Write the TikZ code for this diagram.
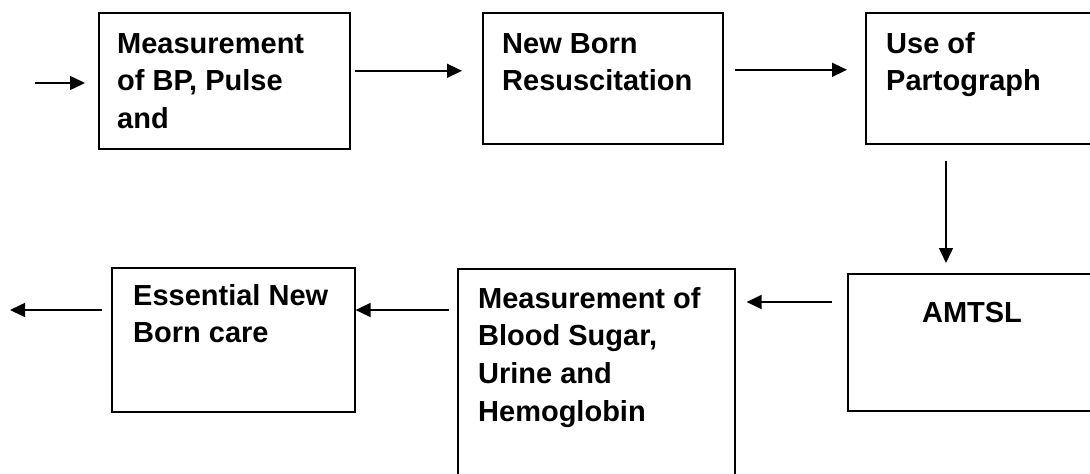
\documentclass[tikz,border=0pt]{standalone}
\usepackage{fontspec}
\setmainfont{Liberation Sans}
\usetikzlibrary{arrows.meta}
\tikzset{
  box/.style={draw, line width=1.6pt, rectangle, inner sep=0pt, anchor=north west},
  txt/.style={anchor=base west, inner sep=0pt, font=\fontsize{29}{37.8}\selectfont\bfseries},
  arr/.style={line width=1.5pt, -{Triangle[length=15pt,width=14pt]}},
}
\newcommand{\boxtext}[1]{\parbox[t]{320pt}{\raggedright #1}}
\begin{document}
\begin{tikzpicture}[x=1pt,y=-1pt]
\useasboundingbox (0,0) rectangle (1090,474);
% boxes
\node[box, minimum width=251pt, minimum height=136pt] (b1) at (98,12) {};
\node[box, minimum width=240pt, minimum height=131pt] (b2) at (482,12) {};
\node[box, minimum width=240pt, minimum height=131pt] (b3) at (865,12) {};
\node[box, minimum width=260pt, minimum height=137pt] (b4) at (847,273) {};
\node[box, minimum width=277pt, minimum height=230pt] (b5) at (457,268) {};
\node[box, minimum width=243pt, minimum height=144pt] (b6) at (111,267) {};
% texts
\node[txt] (t1) at (117,53) {\boxtext{Measurement\\of BP, Pulse\\and}};
\node[txt] (t2) at (502,53) {\boxtext{New Born\\Resuscitation}};
\node[txt] (t3) at (886,53) {\boxtext{Use of\\Partograph}};
\node[txt, anchor=base] (t4) at (972,322) {AMTSL};
\node[txt] (t5) at (478,308) {\boxtext{Measurement of\\Blood Sugar,\\Urine and\\Hemoglobin}};
\node[txt] (t6) at (133,305) {\boxtext{Essential New\\Born care}};
% free ends
\coordinate (in) at (35,83);
\coordinate (out) at (10,310);
% connectors
\draw[arr, shorten >=13pt] (in) -- (in -| b1.west);
\draw[arr, shorten <=4pt, shorten >=20pt] ([yshift=10pt]b1.east) -- ([yshift=10pt]b1.east -| b2.west);
\draw[arr, shorten <=11pt, shorten >=18pt] ([yshift=8.5pt]b2.east) -- ([yshift=8.5pt]b2.east -| b3.west);
\draw[arr, shorten <=16pt, shorten >=10pt] ([xshift=81pt]b3.south west) -- ([xshift=81pt]b3.south west |- b4.north);
\draw[arr, shorten <=15pt, shorten >=11pt] ([yshift=-29pt]b4.north west) -- ([yshift=-29pt]b4.north west -| b5.east);
\draw[arr, shorten <=8pt, shorten >=0pt] ([yshift=-42pt]b5.north west) -- ([yshift=-42pt]b5.north west -| b6.east);
\draw[arr, shorten <=9pt] (b6.west |- out) -- (out);
\end{tikzpicture}
\end{document}
